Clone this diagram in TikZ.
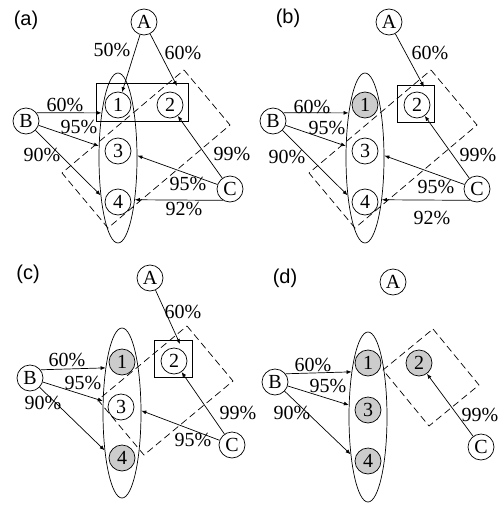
\documentclass[tikz,border=0pt]{standalone}
\usepackage{fontspec}
\setmainfont{Liberation Serif}
\setsansfont{Liberation Sans}
\usetikzlibrary{shapes.geometric,arrows.meta}

\tikzset{
  vert/.style={circle, draw, minimum size=26pt, inner sep=0pt},
  hit/.style={vert, fill=gray!40},
  ring/.style={ellipse, draw, minimum width=38pt, minimum height=170pt, inner sep=0pt},
  grp/.style={dash pattern=on 7pt off 4pt},
  tag/.style={font=\fontsize{20}{22}\sffamily},
  pct/.style={inner sep=0pt}
}

\begin{document}
\begin{tikzpicture}[x=1pt, y=-1pt, line width=0.7pt, >={Latex[length=5pt,width=4pt]}, font=\fontsize{20}{22}\selectfont]
\useasboundingbox (0,0) rectangle (498,506);

% (a)
\begin{scope}
\node[tag](ta) at (26,20) {(a)};
\node[ring](aE) at (118,158) {};
\draw (96,83) rectangle (188,121);
\draw[grp] (184,70) -- (230,125) -- (108,228) -- (62,173) -- cycle;
\node[vert](aA) at (144,22) {A};
\node[vert](aB) at (26,121) {B};
\node[vert](aC) at (230,189) {C};
\node[vert](a1) at (118,105) {1};
\node[vert](a2) at (170,105) {2};
\node[vert](a3) at (118,151) {3};
\node[vert](a4) at (118,202) {4};
\coordinate (at2) at (177,86);

\draw[->] (aA) -- (a1);
\draw[->] (aA) -- (at2);
\draw[->] (aB.38) -- (aE.110);
\draw[->] (aB) -- (aE.148);
\draw[->] (aB) -- (aE.245);
\draw[->] (aC) -- (a2);
\draw[->] (aC) -- (aE.7);
\draw[->] (aC.238) -- (aE.-68.6);

\node[pct](a50) at (112,50) {50\%};
\node[pct](a60t) at (183,53) {60\%};
\node[pct](a60) at (65,105) {60\%};
\node[pct](a95) at (79,127) {95\%};
\node[pct](a90) at (42,155) {90\%};
\node[pct](a99) at (232,154) {99\%};
\node[pct](a95c) at (188,184) {95\%};
\node[pct](a92) at (184,209) {92\%};
\end{scope}

% (b)
\begin{scope}[shift={(247,0)}]
\node[tag](tb) at (41,18) {(b)};
\node[ring](bE) at (118,158) {};
\draw (150,85) rectangle (187,122);
\draw[grp] (184,70) -- (230,125) -- (108,228) -- (62,173) -- cycle;
\node[vert](bA) at (142,22) {A};
\node[vert](bB) at (26,121) {B};
\node[vert](bC) at (230,189) {C};
\node[hit](b1) at (118,105) {1};
\node[vert](b2) at (170,105) {2};
\node[vert](b3) at (118,151) {3};
\node[vert](b4) at (118,202) {4};
\coordinate (bt2) at (177,87);

\draw[->] (bA) -- (bt2);
\draw[->] (bB.38) -- (bE.110);
\draw[->] (bB) -- (bE.148);
\draw[->] (bB) -- (bE.245);
\draw[->] (bC) -- (b2);
\draw[->] (bC) -- (bE.7);
\draw[->] (bC.238) -- (bE.-68.6);

\node[pct](b60t) at (183,53) {60\%};
\node[pct](b60) at (65,107) {60\%};
\node[pct](b95) at (80,128) {95\%};
\node[pct](b90) at (40,157) {90\%};
\node[pct](b99) at (231,155) {99\%};
\node[pct](b95c) at (189,187) {95\%};
\node[pct](b92) at (185,218) {92\%};
\end{scope}

% (c)
\begin{scope}[shift={(4,256)}]
\node[tag](tc) at (24,18) {(c)};
\node[ring](cE) at (118,157) {};
\draw (150,84) rectangle (188,121);
\draw[grp] (183,70) -- (229,125) -- (140,199) -- (94,144) -- cycle;
\node[vert](cA) at (146,22) {A};
\node[vert](cB) at (26,122) {B};
\node[vert](cC) at (228,189) {C};
\node[hit](c1) at (118,106) {1};
\node[vert](c2) at (170,105) {2};
\node[vert](c3) at (117,151) {3};
\node[hit](c4) at (118,202) {4};
\coordinate (ct2) at (176,88);

\draw[->] (cA) -- (ct2);
\draw[->] (cB.38) -- (cE.110);
\draw[->] (cB) -- (cE.148);
\draw[->] (cB) -- (cE.245);
\draw[->] (cC) -- (c2);
\draw[->] (cC) -- (cE.7);

\node[pct](c60t) at (179,56) {60\%};
\node[pct](c60) at (63,104) {60\%};
\node[pct](c95) at (79,127) {95\%};
\node[pct](c90) at (39,147) {90\%};
\node[pct](c99) at (234,157) {99\%};
\node[pct](c95c) at (189,184) {95\%};
\end{scope}

% (d)
\begin{scope}[shift={(250,258)}]
\node[tag](td) at (35,20) {(d)};
\node[ring](dE) at (118,159) {};
\draw[grp] (183,71) -- (229,127) -- (179,168) -- (133,112) -- cycle;
\node[vert](dA) at (143,24) {A};
\node[vert](dB) at (25,124) {B};
\node[vert](dC) at (231,189) {C};
\node[hit](d1) at (118,105) {1};
\node[hit](d2) at (169,105) {2};
\node[hit](d3) at (118,152) {3};
\node[hit](d4) at (118,203) {4};

\draw[->] (dB.38) -- (dE.110);
\draw[->] (dB) -- (dE.148);
\draw[->] (dB) -- (dE.245);
\draw[->] (dC) -- (d2);

\node[pct](d60) at (63,107) {60\%};
\node[pct](d95) at (78,128) {95\%};
\node[pct](d90) at (42,155) {90\%};
\node[pct](d99) at (230,157) {99\%};
\end{scope}
\end{tikzpicture}
\end{document}
